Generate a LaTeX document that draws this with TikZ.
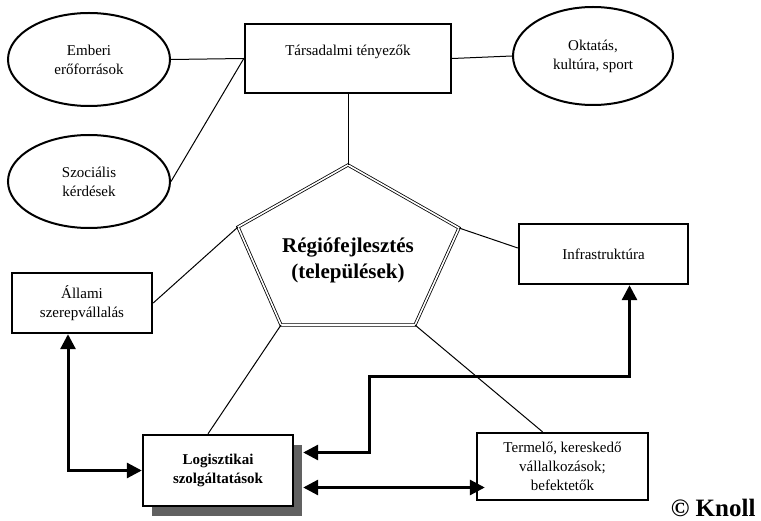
\documentclass[tikz,border=0pt]{standalone}
\usepackage{fontspec}
\setmainfont{Liberation Serif}
\usetikzlibrary{shapes.geometric,arrows.meta,shadows}

\newcommand{\boxfont}{\fontsize{15}{19}\selectfont}
\newcommand{\bigfont}{\fontsize{21}{26}\selectfont\bfseries}

\begin{document}
\begin{tikzpicture}[x=1pt, y=-1pt,
    box/.style={draw, line width=2.4pt, align=center, inner sep=0pt, font=\boxfont},
    oval/.style={ellipse, draw, line width=2pt, align=center, inner sep=0pt, font=\boxfont},
    link/.style={line width=1pt},
    flowboth/.style={line width=3pt, {Triangle[length=15pt,width=15pt]}-{Triangle[length=15pt,width=15pt]}}]

    % Fix the page size
    \useasboundingbox (0,0) rectangle (761,521);

    % Add top row
    \node[box, minimum width=206pt, minimum height=69pt, text depth=17pt] (tars) at (348,58.5) {Társadalmi tényezők};
    \node[oval, minimum width=162pt, minimum height=93pt] (emberi) at (89,59.5) {Emberi\\erőforrások};
    \node[oval, minimum width=160pt, minimum height=98pt] (oktatas) at (593,56) {Oktatás,\\kultúra, sport};
    \node[oval, minimum width=162pt, minimum height=93pt] (szoc) at (89,181.5) {Szociális\\kérdések};

    % Add the pentagon
    \coordinate (ptop) at (348,165);
    \coordinate (pul) at (238,227);
    \coordinate (pur) at (459,228);
    \coordinate (pll) at (281,325);
    \coordinate (plr) at (415,325);
    \draw[line width=0.8pt, double=white, double distance=1.6pt] (ptop) -- (pur) -- (plr) -- (pll) -- (pul) -- cycle;
    \node[align=center, font=\bigfont] (reg) at (348,260) {Régiófejlesztés\\(települések)};

    % Add side boxes
    \node[box, minimum width=140pt, minimum height=60pt] (allami) at (82,303) {Állami\\szerepvállalás};
    \node[box, minimum width=169pt, minimum height=60pt] (infra) at (603.5,254) {Infrastruktúra};
    \node[box, minimum width=150pt, minimum height=71pt, fill=white, font=\boxfont\bfseries,
          drop shadow={shadow xshift=9pt, shadow yshift=-10pt, fill=black!62, opacity=1}] (logi) at (218,470.5) {Logisztikai\\szolgáltatások};
    \node[box, minimum width=171pt, minimum height=67pt] (term) at (562.5,466.5) {Termelő, kereskedő\\vállalkozások;\\befektetők};

    % Thin links
    \draw[link] (emberi.east) -- (tars.west);
    \draw[link] (szoc.east) -- (tars.west);
    \draw[link] (tars.east) -- (oktatas.west);
    \draw[link] (tars.south) -- (ptop);
    \draw[link] (pur) -- ([yshift=6pt]infra.west);
    \draw[link] (allami.east) -- (pul);
    \draw[link] (pll) -- ([xshift=-10pt]logi.north);
    \draw[link] (plr) -- ([xshift=-20pt]term.north);

    % Thick arrows
    \coordinate (bend) at (369,377);
    \draw[flowboth] ([xshift=-14pt]allami.south) |- (logi.west);
    \draw[flowboth] ([shift={(9,-18)}]logi.east) -| (bend) -| ([xshift=26pt]infra.south);
    \draw[flowboth] ([shift={(9,17)}]logi.east) -- ([shift={(9,17)}]logi.east -| term.west);

    % Copyright
    \node[anchor=east, font=\fontsize{25}{28}\selectfont\bfseries] (knoll) at (759,508) {© Knoll};

\end{tikzpicture}
\end{document}
